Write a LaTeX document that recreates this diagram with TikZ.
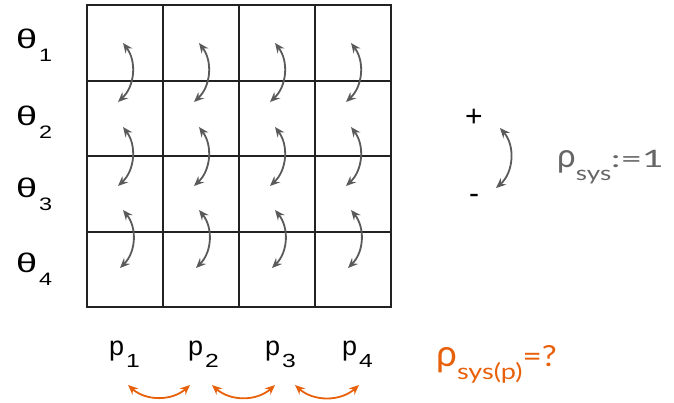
\documentclass[tikz,border=0pt]{standalone}
\usepackage{fontspec}
\setmainfont{Liberation Sans}
\newfontfamily\latofont{Lato}
\usetikzlibrary{arrows.meta}
\definecolor{gridc}{HTML}{222222}
\definecolor{arrc}{HTML}{5A5A5A}
\definecolor{txtgray}{HTML}{666666}
\definecolor{orng}{HTML}{E8600A}
\tikzset{
  gridline/.style={draw=gridc, line width=2pt, line cap=rect},
  lab/.style={inner sep=0pt, anchor=base west, font=\fontsize{27}{30}\selectfont},
  swap/.style={draw=arrc, line width=1.8pt, {Stealth[length=10pt,width=8.5pt,inset=3.5pt]}-{Stealth[length=10pt,width=8.5pt,inset=3.5pt]}},
  oswap/.style={draw=orng, line width=1.8pt, {Stealth[length=10pt,width=8.5pt,inset=3.5pt]}-{Stealth[length=10pt,width=8.5pt,inset=3.5pt]}},
}
\newcommand{\thlab}[1]{\scalebox{1.4}[1]{θ}\hspace{2pt}\raisebox{-13pt}{\fontsize{18}{18}\selectfont\scalebox{1.3}[1]{#1}}}
\newcommand{\plab}[1]{p\hspace{2pt}\raisebox{-12pt}{\fontsize{19}{19}\selectfont\scalebox{1.3}[1]{#1}}}
\begin{document}
\begin{tikzpicture}[x=1pt,y=-1pt]
\useasboundingbox (0,0) rectangle (674,402);
% grid
\coordinate (gTL) at (87,5);
\coordinate (gBR) at (391,307);
\foreach \xx in {87,163,239,315,391}{
  \draw[gridline] (\xx,5) -- (\xx,307);
}
\foreach \yy in {5,81,156,232,307}{
  \draw[gridline] (87,\yy) -- (391,\yy);
}
% arrows in grid
\foreach \c in {1,...,4}{
  \pgfmathsetmacro{\cx}{87+76*(\c-1)+38}
  \coordinate (a1t\c) at ({\cx-2},43);
  \coordinate (a1b\c) at ({\cx-7},102);
  \coordinate (a2t\c) at ({\cx-2},127);
  \coordinate (a2b\c) at ({\cx-7},186);
  \coordinate (a3t\c) at ({\cx-2},210);
  \coordinate (a3b\c) at ({\cx-5},268);
  \draw[swap] (a1t\c) to[bend left=42] (a1b\c);
  \draw[swap] (a2t\c) to[bend left=42] (a2b\c);
  \draw[swap] (a3t\c) to[bend left=42] (a3b\c);
}
% theta labels
\node[lab] (t1) at (16,48) {\thlab{1}};
\node[lab] (t2) at (16,125) {\thlab{2}};
\node[lab] (t3) at (16,197) {\thlab{3}};
\node[lab] (t4) at (16,272) {\thlab{4}};
% p labels
\node[lab] (p1) at (109,355) {\plab{1}};
\node[lab] (p2) at (188,355) {\plab{2}};
\node[lab] (p3) at (265,355) {\plab{3}};
\node[lab] (p4) at (342,355) {\plab{4}};
% orange swaps
\coordinate (o1a) at (128,385); \coordinate (o1b) at (190,385);
\coordinate (o2a) at (212,385); \coordinate (o2b) at (275,385);
\coordinate (o3a) at (295,385); \coordinate (o3b) at (359,385);
\draw[oswap] (o1a) to[bend right=42] (o1b);
\draw[oswap] (o2a) to[bend right=42] (o2b);
\draw[oswap] (o3a) to[bend right=42] (o3b);
% plus / minus
\node[inner sep=0pt, font=\fontsize{30}{30}\selectfont] (plus) at (474,118) {+};
\node[inner sep=0pt, font=\fontsize{30}{30}\selectfont] (minus) at (474,199) {-};
\coordinate (gA) at (500,128); \coordinate (gB) at (496,188);
\draw[swap] (gA) to[bend left=45] (gB);
% rho sys
\node[inner sep=0pt, anchor=base west, text=txtgray] (rs) at (557,167)
  {\latofont\fontsize{33}{33}\selectfont ρ\raisebox{-13pt}{\fontsize{20}{20}\selectfont\scalebox{1.3}[1]{sys}}\fontsize{24}{24}\selectfont\scalebox{1.55}[1]{:=1}};
\node[inner sep=0pt, anchor=base west, text=orng] (rp) at (436,366)
  {\latofont\fontsize{37}{37}\selectfont ρ\raisebox{-13pt}{\fontsize{22}{22}\selectfont\scalebox{1.23}[1]{sys(p)}}\fontsize{29}{29}\selectfont\scalebox{1.15}[1]{=?}};
\end{tikzpicture}
\end{document}
